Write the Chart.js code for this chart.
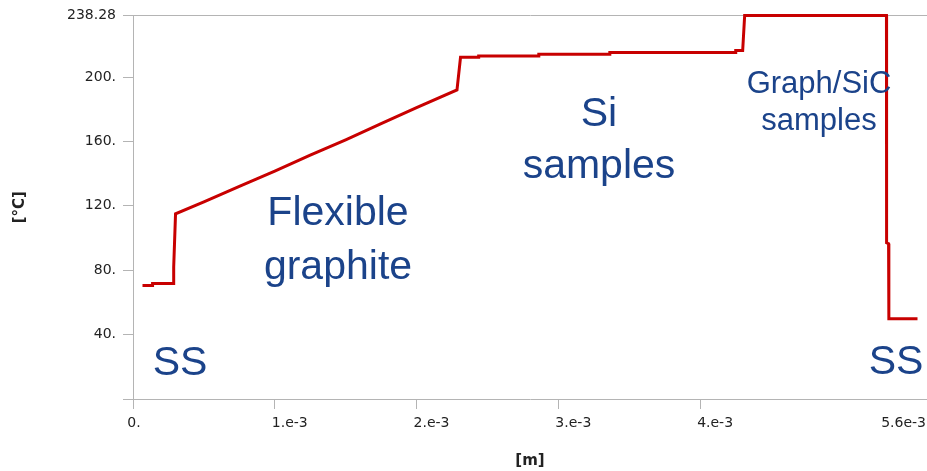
<!DOCTYPE html>
<html>
<head>
<meta charset="utf-8">
<script src="https://cdn.jsdelivr.net/npm/chart.js@4/dist/chart.umd.min.js"></script>
<style>
  html, body { margin: 0; padding: 0; background: #ffffff; }
  #wrap { width: 927px; height: 471px; position: relative; }
</style>
</head>
<body>
<div id="wrap"><canvas id="c" width="927" height="471"></canvas></div>
<script>
// ---- data ----
const positions = [0.067e-3, 0.137e-3, 0.138e-3, 0.285e-3, 0.287e-3, 0.300e-3,
  0.50e-3, 0.75e-3, 1.00e-3, 1.25e-3, 1.50e-3, 1.75e-3, 2.00e-3, 2.285e-3,
  2.310e-3, 2.437e-3, 2.438e-3, 2.861e-3, 2.862e-3, 3.362e-3, 3.363e-3, 4.250e-3, 4.251e-3, 4.300e-3,
  4.314e-3, 5.314e-3, 5.315e-3, 5.329e-3, 5.331e-3, 5.533e-3];
const temperatures = [70.5, 70.5, 71.8, 71.8, 82.0, 115.0,
  122.5, 132.0, 141.5, 151.5, 161.0, 171.0, 181.0, 192.0,
  212.3, 212.3, 213.1, 213.1, 214.1, 214.1, 215.2, 215.2, 216.4, 216.4,
  238.28, 238.28, 97.0, 96.5, 49.8, 49.8];
const xTickValues = [0, 1e-3, 2e-3, 3e-3, 4e-3, 5.6e-3];
const xTickLabels = ['0.', '1.e-3', '2.e-3', '3.e-3', '4.e-3', '5.6e-3'];
const yTickValues = [0, 40, 80, 120, 160, 200, 238.28];
const yTickLabels = ['', '40.', '80.', '120.', '160.', '200.', '238.28'];
const regionLabels = [
  ['SS'],
  ['Flexible', 'graphite'],
  ['Si', 'samples'],
  ['Graph/SiC', 'samples'],
  ['SS']
];

const axisGray = '#b4b4b4';
const tickFont = { family: 'DejaVu Sans', size: 14 };
const textDark = '#222222';

const xLabelPlugin = {
  id: 'xLabels',
  afterDraw(chart) {
    const ctx = chart.ctx;
    const xs = chart.scales.x;
    const y = chart.chartArea.bottom + 24;
    ctx.save();
    ctx.font = '14px "DejaVu Sans"';
    ctx.fillStyle = textDark;
    ctx.textBaseline = 'middle';
    xTickValues.forEach((v, i) => {
      const px = xs.getPixelForValue(v);
      if (i === xTickValues.length - 1) {
        ctx.textAlign = 'right';
        ctx.fillText(xTickLabels[i], chart.width - 1, y);
      } else if (i === 0) {
        ctx.textAlign = 'center';
        ctx.fillText(xTickLabels[i], px + 1, y);
      } else {
        ctx.textAlign = 'left';
        ctx.fillText(xTickLabels[i], px - 3, y);
      }
    });
    ctx.restore();
  }
};

// annotation layout (pixel placement of the region names)
const regionLayout = [
  { x: 180, y: [364], size: 41 },
  { x: 338, y: [214, 268], size: 41 },
  { x: 599, y: [115, 167], size: 41 },
  { x: 819, y: [84, 121], size: 31 },
  { x: 896, y: [363], size: 41 }
];

const regionPlugin = {
  id: 'regions',
  afterDatasetsDraw(chart) {
    const ctx = chart.ctx;
    ctx.save();
    ctx.fillStyle = '#1b438a';
    ctx.textAlign = 'center';
    ctx.textBaseline = 'middle';
    regionLabels.forEach((lines, i) => {
      const L = regionLayout[i];
      ctx.font = L.size + 'px "Liberation Sans", Arial, sans-serif';
      lines.forEach((t, j) => ctx.fillText(t, L.x, L.y[j]));
    });
    ctx.restore();
  }
};

new Chart(document.getElementById('c'), {
  type: 'line',
  data: {
    datasets: [{
      data: positions.map((x, i) => ({ x: x, y: temperatures[i] })),
      borderColor: '#c80000',
      borderWidth: 3,
      pointRadius: 0,
      tension: 0,
      fill: false,
      clip: 6
    }]
  },
  options: {
    responsive: false,
    animation: false,
    events: [],
    layout: { padding: { top: 14, right: 0, bottom: 0, left: 0 } },
    plugins: { legend: { display: false }, tooltip: { enabled: false } },
    scales: {
      x: {
        type: 'linear',
        min: 0,
        max: 5.6e-3,
        afterBuildTicks: (s) => { s.ticks = xTickValues.map(v => ({ value: v })); },
        afterFit: (s) => { s.height = 72; },
        ticks: { display: false },
        grid: { color: 'transparent', tickColor: axisGray, tickLength: 10, drawTicks: true },
        border: { display: true, color: axisGray, width: 1 },
        title: { display: true, text: '[m]', color: textDark, font: { family: 'DejaVu Sans', size: 15, weight: 'bold' }, padding: { top: 0, bottom: 1 } }
      },
      y: {
        type: 'linear',
        min: 0,
        max: 238.28,
        afterBuildTicks: (s) => { s.ticks = yTickValues.map(v => ({ value: v })); },
        afterFit: (s) => { s.width = 133; },
        ticks: {
          color: textDark,
          font: tickFont,
          padding: 7,
          autoSkip: false,
          callback: (v, i) => yTickLabels[i]
        },
        grid: {
          color: (c) => (c.tick && c.tick.value === 238.28) ? axisGray : 'transparent',
          tickColor: axisGray,
          tickLength: 10,
          drawTicks: true
        },
        border: { display: true, color: axisGray, width: 1 },
        title: { display: true, text: '[°C]', color: textDark, font: { family: 'DejaVu Sans', size: 15, weight: 'bold' }, padding: { top: 11, bottom: 0 } }
      }
    }
  },
  plugins: [xLabelPlugin, regionPlugin]
});
</script>
</body>
</html>
